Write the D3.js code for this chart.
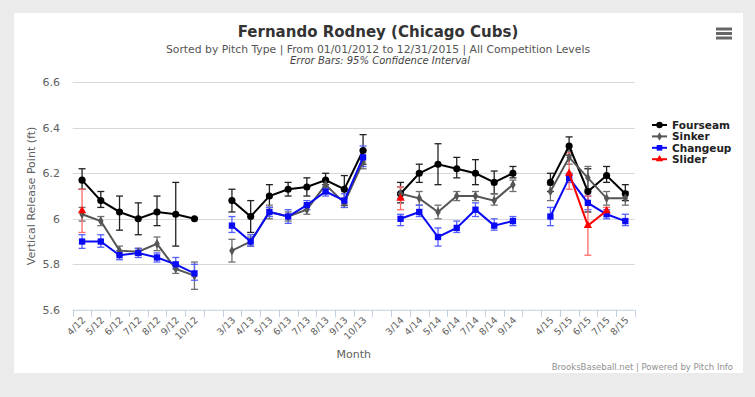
<!DOCTYPE html>
<html lang="en">
<head>
  <meta charset="UTF-8">
  <title>Fernando Rodney (Chicago Cubs)</title>
  <style>
    body { margin: 0; background: #ebebeb; }
    svg { display: block; font-family: "DejaVu Sans", Verdana, sans-serif; }
  </style>
</head>
<body>

  <div id="app"></div>

  <script src="https://cdn.jsdelivr.net/npm/d3@7"></script>
  <script>
    // months, '' = gap between seasons
    const categories = [
      '4/12','5/12','6/12','7/12','8/12','9/12','10/12','',
      '3/13','4/13','5/13','6/13','7/13','8/13','9/13','10/13','',
      '3/14','4/14','5/14','6/14','7/14','8/14','9/14','',
      '4/15','5/15','6/15','7/15','8/15'
    ]
    const yTicks = [5.6, 5.8, 6, 6.2, 6.4, 6.6]

    const fourseam = [6.17, 6.08, 6.03, 6.00, 6.03, 6.02, 6.00, null,
      6.08, 6.01, 6.10, 6.13, 6.14, 6.17, 6.13, 6.30, null,
      6.11, 6.20, 6.24, 6.22, 6.20, 6.16, 6.20, null,
      6.16, 6.32, 6.12, 6.19, 6.11]
    const fourseamLow = [6.13, 6.05, 5.95, 5.93, 5.97, 5.88, null, null,
      6.03, 5.94, 6.05, 6.10, 6.10, 6.15, 6.06, 6.24, null,
      6.07, 6.16, 6.15, 6.18, 6.15, 6.11, 6.18, null,
      6.12, 6.28, 6.03, 6.16, 6.08]
    const fourseamHigh = [6.22, 6.12, 6.10, 6.07, 6.10, 6.16, null, null,
      6.13, 6.08, 6.15, 6.16, 6.18, 6.20, 6.19, 6.37, null,
      6.16, 6.24, 6.33, 6.27, 6.26, 6.21, 6.23, null,
      6.20, 6.36, 6.22, 6.23, 6.15]

    const sinker = [6.02, 5.99, 5.86, 5.855, 5.89, 5.78, 5.75, null,
      5.86, 5.90, 6.03, 6.01, 6.04, 6.15, 6.07, 6.25, null,
      6.11, 6.09, 6.03, 6.10, 6.10, 6.08, 6.15, null,
      6.12, 6.27, 6.18, 6.09, 6.09]
    const sinkerLow = [5.99, 5.97, 5.84, 5.84, 5.86, 5.76, 5.69, null,
      5.81, 5.88, 6.00, 5.99, 6.02, 6.13, 6.05, 6.22, null,
      6.09, 6.06, 6.00, 6.08, 6.08, 6.06, 6.12, null,
      6.08, 6.24, 6.13, 6.06, 6.06]
    const sinkerHigh = [6.05, 6.01, 5.88, 5.87, 5.92, 5.80, 5.81, null,
      5.91, 5.92, 6.06, 6.03, 6.06, 6.17, 6.09, 6.30, null,
      6.14, 6.12, 6.06, 6.12, 6.12, 6.11, 6.17, null,
      6.15, 6.30, 6.23, 6.12, 6.12]

    const changeup = [5.90, 5.90, 5.84, 5.85, 5.83, 5.80, 5.76, null,
      5.97, 5.90, 6.03, 6.01, 6.06, 6.12, 6.08, 6.27, null,
      6.00, 6.03, 5.92, 5.96, 6.04, 5.97, 5.99, null,
      6.01, 6.18, 6.07, 6.02, 5.99]
    const changeupLow = [5.87, 5.875, 5.82, 5.83, 5.81, 5.78, 5.73, null,
      5.94, 5.88, 6.01, 5.98, 6.04, 6.10, 6.05, 6.23, null,
      5.97, 6.01, 5.88, 5.94, 6.01, 5.95, 5.97, null,
      5.97, 6.16, 6.04, 6.00, 5.97]
    const changeupHigh = [5.93, 5.93, 5.86, 5.87, 5.85, 5.83, 5.80, null,
      6.01, 5.93, 6.05, 6.04, 6.08, 6.14, 6.11, 6.32, null,
      6.02, 6.06, 5.96, 5.99, 6.07, 6.00, 6.01, null,
      6.05, 6.20, 6.10, 6.04, 6.02]

    const slider = [6.035, null, null, null, null, null, null, null,
      null, null, null, null, null, null, null, null, null,
      6.09, null, null, null, null, null, null, null,
      null, 6.20, 5.97, 6.035, null]
    const sliderLow = [5.94, null, null, null, null, null, null, null,
      null, null, null, null, null, null, null, null, null,
      6.04, null, null, null, null, null, null, null,
      null, 6.13, 5.84, 6.02, null]
    const sliderHigh = [6.13, null, null, null, null, null, null, null,
      null, null, null, null, null, null, null, null, null,
      6.14, null, null, null, null, null, null, null,
      null, 6.29, 6.10, 6.05, null]

    const series = [
      { name: 'Fourseam', values: fourseam, low: fourseamLow, high: fourseamHigh, color: '#000000', barColor: '#222222', symbol: d3.symbolCircle, size: 40 },
      { name: 'Sinker', values: sinker, low: sinkerLow, high: sinkerHigh, color: '#555555', barColor: '#707070', symbol: d3.symbolDiamond, size: 26 },
      { name: 'Changeup', values: changeup, low: changeupLow, high: changeupHigh, color: '#0a0af5', barColor: '#5560ff', symbol: d3.symbolSquare, size: 40 },
      { name: 'Slider', values: slider, low: sliderLow, high: sliderHigh, color: '#ff0000', barColor: '#ff6a6a', symbol: d3.symbolTriangle, size: 30 }
    ]

    const width = 755, height = 397
    const plot = { left: 72.7, right: 634.7, top: 82.3, bottom: 309.8 }

    const svg = d3.select('#app').append('svg')
      .attr('width', width)
      .attr('height', height)

    // white chart panel
    svg.append('rect')
      .attr('x', 14).attr('y', 13)
      .attr('width', 729).attr('height', 360)
      .attr('fill', '#fff')

    const x = d3.scaleBand()
      .domain(d3.range(categories.length))
      .range([plot.left, plot.right])
    const y = d3.scaleLinear()
      .domain([5.6, 6.6])
      .range([plot.bottom, plot.top])
    const cx = i => x(i) + x.bandwidth() / 2

    // grid
    svg.append('g').selectAll('line').data(yTicks.slice(1)).join('line')
      .attr('x1', plot.left).attr('x2', plot.right)
      .attr('y1', d => Math.round(y(d)) + 0.5).attr('y2', d => Math.round(y(d)) + 0.5)
      .attr('stroke', '#d8d8d8')

    // y axis labels
    svg.append('g').selectAll('text').data(yTicks).join('text')
      .attr('x', 60)
      .attr('y', d => y(d) + 4)
      .attr('text-anchor', 'end')
      .attr('fill', '#606060')
      .attr('font-size', 11)
      .text(d => d3.format('')(d))

    svg.append('text')
      .attr('transform', 'translate(35,196) rotate(-90)')
      .attr('text-anchor', 'middle')
      .attr('fill', '#606060')
      .attr('font-size', 11)
      .text('Vertical Release Point (ft)')

    // x axis
    const xAxis = svg.append('g')
    xAxis.append('line')
      .attr('x1', plot.left).attr('x2', plot.right)
      .attr('y1', plot.bottom + 0.5).attr('y2', plot.bottom + 0.5)
      .attr('stroke', '#c0d0e0')
    xAxis.selectAll('.tick').data(d3.range(categories.length + 1)).join('line')
      .attr('x1', i => Math.round(plot.left + i * x.bandwidth()) + 0.5)
      .attr('x2', i => Math.round(plot.left + i * x.bandwidth()) + 0.5)
      .attr('y1', plot.bottom).attr('y2', plot.bottom + 7)
      .attr('stroke', '#c0d0e0')
    xAxis.selectAll('text').data(categories).join('text')
      .attr('transform', (d, i) => `translate(${cx(i) + 4},${plot.bottom + 11}) rotate(-45)`)
      .attr('text-anchor', 'end')
      .attr('fill', '#606060')
      .attr('font-size', 9.5)
      .text(d => d)

    svg.append('text')
      .attr('x', (plot.left + plot.right) / 2)
      .attr('y', 358)
      .attr('text-anchor', 'middle')
      .attr('fill', '#606060')
      .attr('font-size', 11)
      .text('Month')

    // error bars
    series.forEach(s => {
      const bars = svg.append('g')
        .attr('stroke', s.barColor)
        .attr('stroke-width', 1.3)
        .selectAll('g')
        .data(d3.range(categories.length).filter(i => s.low[i] != null))
        .join('g')
      bars.append('line')
        .attr('x1', cx).attr('x2', cx)
        .attr('y1', i => y(s.low[i])).attr('y2', i => y(s.high[i]))
      bars.append('line')
        .attr('x1', i => cx(i) - 3.5).attr('x2', i => cx(i) + 3.5)
        .attr('y1', i => y(s.low[i])).attr('y2', i => y(s.low[i]))
      bars.append('line')
        .attr('x1', i => cx(i) - 3.5).attr('x2', i => cx(i) + 3.5)
        .attr('y1', i => y(s.high[i])).attr('y2', i => y(s.high[i]))
    })

    // lines and markers
    const line = d3.line()
      .defined(d => d.v != null)
      .x(d => cx(d.i))
      .y(d => y(d.v))

    series.forEach(s => {
      const pts = s.values.map((v, i) => ({ v, i }))
      svg.append('path')
        .attr('d', line(pts))
        .attr('fill', 'none')
        .attr('stroke', s.color)
        .attr('stroke-width', 2)
      svg.append('g').selectAll('path')
        .data(pts.filter(d => d.v != null))
        .join('path')
        .attr('transform', d => `translate(${cx(d.i)},${y(d.v)})`)
        .attr('d', d3.symbol(s.symbol, s.size))
        .attr('fill', s.color)
    })

    // legend
    const legend = svg.append('g').selectAll('g').data(series).join('g')
      .attr('transform', (d, i) => `translate(652,${125 + i * 11.4})`)
    legend.append('line')
      .attr('x1', 0).attr('x2', 15)
      .attr('stroke', d => d.color)
      .attr('stroke-width', 2)
    legend.append('path')
      .attr('transform', 'translate(7.5,0)')
      .attr('d', d => d3.symbol(d.symbol, d.size * 0.8)())
      .attr('fill', d => d.color)
    legend.append('text')
      .attr('x', 20)
      .attr('y', 4)
      .attr('font-size', 10.5)
      .attr('font-weight', 'bold')
      .attr('fill', '#222')
      .text(d => d.name)

    // titles
    svg.append('text')
      .attr('x', 378).attr('y', 37)
      .attr('text-anchor', 'middle')
      .attr('font-size', 15)
      .attr('font-weight', 'bold')
      .attr('fill', '#333')
      .text('Fernando Rodney (Chicago Cubs)')
    svg.append('text')
      .attr('x', 378).attr('y', 53)
      .attr('text-anchor', 'middle')
      .attr('font-size', 10.8)
      .attr('fill', '#555')
      .text('Sorted by Pitch Type | From 01/01/2012 to 12/31/2015 | All Competition Levels')
    svg.append('text')
      .attr('x', 380).attr('y', 64)
      .attr('text-anchor', 'middle')
      .attr('font-size', 10)
      .attr('font-style', 'italic')
      .attr('fill', '#444')
      .text('Error Bars: 95% Confidence Interval')

    // export menu icon
    svg.append('g').selectAll('line').data([29, 33.5, 38]).join('line')
      .attr('x1', 716).attr('x2', 732)
      .attr('y1', d => d).attr('y2', d => d)
      .attr('stroke', '#666')
      .attr('stroke-width', 3)

    svg.append('text')
      .attr('x', 733).attr('y', 370)
      .attr('text-anchor', 'end')
      .attr('font-size', 8.5)
      .attr('fill', '#909090')
      .text('BrooksBaseball.net | Powered by Pitch Info')
  </script>
</body>
</html>
